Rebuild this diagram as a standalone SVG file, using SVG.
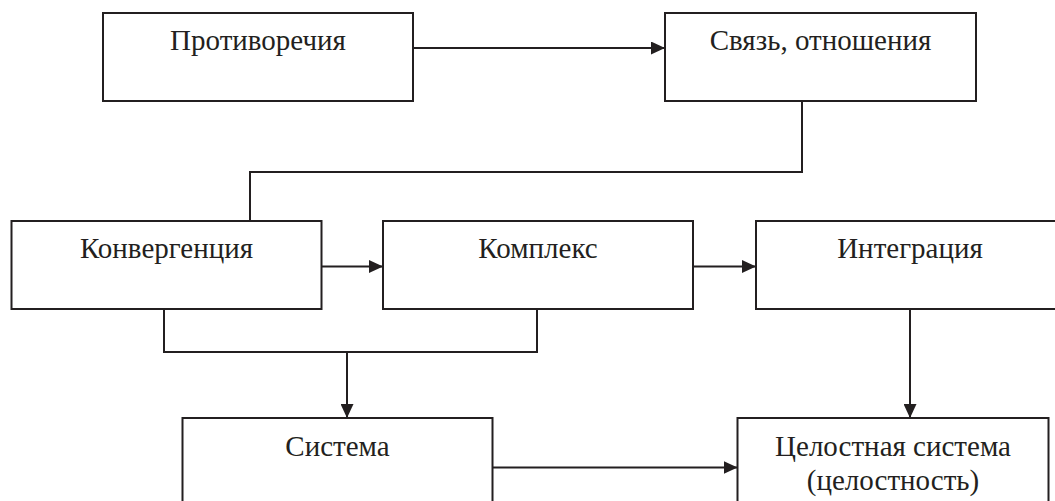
<svg xmlns="http://www.w3.org/2000/svg" width="1055" height="501" viewBox="0 0 1055 501">
<style>
.box{fill:#fff;stroke:#231f20;stroke-width:2}
.lbl{font-family:"Liberation Serif","Times New Roman",serif;font-size:29px;fill:#231f20;text-anchor:middle}
.con{fill:none;stroke:#231f20;stroke-width:2}
</style>
<defs>
<marker id="arr" markerUnits="userSpaceOnUse" markerWidth="14" markerHeight="13" refX="14" refY="6.5" orient="auto">
<path d="M0,0 L14,6.5 L0,13 z" fill="#231f20"/>
</marker>
</defs>
<rect width="1055" height="501" fill="#fff"/>
<g id="connectors">
<line class="con" x1="413" y1="48" x2="665" y2="48" marker-end="url(#arr)"/>
<polyline class="con" points="802,101 802,172 250,172 250,221"/>
<line class="con" x1="322" y1="266.5" x2="383" y2="266.5" marker-end="url(#arr)"/>
<line class="con" x1="693" y1="266.5" x2="756" y2="266.5" marker-end="url(#arr)"/>
<polyline class="con" points="164,309 164,352 537,352 537,309"/>
<line class="con" x1="347" y1="352" x2="347" y2="418" marker-end="url(#arr)"/>
<line class="con" x1="910" y1="309" x2="910" y2="418" marker-end="url(#arr)"/>
<line class="con" x1="493" y1="467.5" x2="737.5" y2="467.5" marker-end="url(#arr)"/>
</g>
<g id="n-protivorechiya">
<rect class="box" x="103" y="13" width="310" height="88"/>
<text class="lbl" x="258" y="50">Противоречия</text>
</g>
<g id="n-svyaz">
<rect class="box" x="665" y="13" width="311" height="88"/>
<text class="lbl" x="820.5" y="50">Связь, отношения</text>
</g>
<g id="n-konvergenciya">
<rect class="box" x="11.5" y="221" width="310" height="88"/>
<text class="lbl" x="166.5" y="258">Конвергенция</text>
</g>
<g id="n-kompleks">
<rect class="box" x="383" y="221" width="310" height="88"/>
<text class="lbl" x="538" y="258">Комплекс</text>
</g>
<g id="n-integraciya">
<rect class="box" x="756" y="221" width="310" height="88"/>
<text class="lbl" x="910" y="258">Интеграция</text>
</g>
<g id="n-sistema">
<rect class="box" x="182.5" y="418" width="310" height="100"/>
<text class="lbl" x="337.5" y="456">Система</text>
</g>
<g id="n-celostnaya">
<rect class="box" x="737.5" y="418" width="311" height="100"/>
<text class="lbl" x="893" y="456">Целостная система</text>
<text class="lbl" x="893" y="490">(целостность)</text>
</g>
</svg>
